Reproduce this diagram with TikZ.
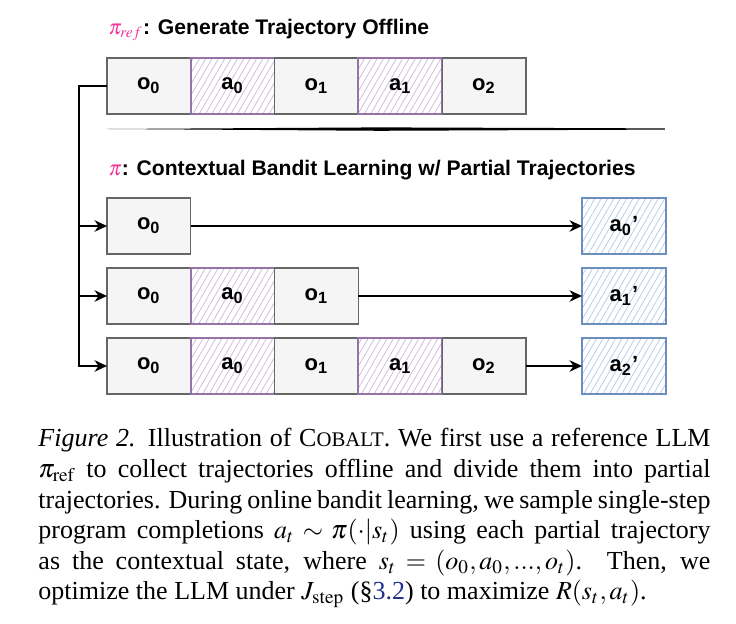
\documentclass[tikz,border=0pt]{standalone}
\usepackage{mathptmx}
\usepackage{fontspec}
\setmainfont{Liberation Serif}
\setsansfont{Liberation Sans}
\usetikzlibrary{positioning,patterns.meta,arrows.meta}

\definecolor{boxgray}{HTML}{F5F5F5}
\definecolor{edgegray}{HTML}{666666}
\definecolor{actpurple}{HTML}{9673A6}
\definecolor{hatchpurple}{HTML}{CDB9D9}
\definecolor{newblue}{HTML}{6C8EBF}
\definecolor{hatchblue}{HTML}{B5CBEA}
\definecolor{pipink}{HTML}{F0369A}
\definecolor{linkblue}{HTML}{1F2F8F}

\tikzset{
  seg/.style={minimum width=33.52pt, minimum height=22.4pt, inner sep=0pt, outer sep=0pt,
    font=\sffamily\bfseries\fontsize{8.8}{10}\selectfont},
  obsbox/.style={seg, draw=edgegray, fill=boxgray, line width=0.5pt},
  actbox/.style={seg, draw=actpurple, line width=0.75pt,
    pattern={Lines[angle=60,distance=2.2pt,line width=0.3pt]}, pattern color=hatchpurple},
  newbox/.style={seg, draw=newblue, line width=0.75pt,
    pattern={Lines[angle=60,distance=2.2pt,line width=0.3pt]}, pattern color=hatchblue},
  flow/.style={line width=0.6pt, -{Stealth[length=5pt,width=4.6pt]}},
  heading/.style={anchor=west, inner sep=0pt, font=\sffamily\bfseries\fontsize{8.45}{10}\selectfont}
}

\begin{document}
\begin{tikzpicture}[x=0.4pt, y=-0.4pt]
    \useasboundingbox (0,0) rectangle (736,624);

    % Offline trajectory from the reference policy
    \node[heading] (title1) at (108,30) {\textcolor{pipink}{$\pi_{ref}$}: Generate Trajectory Offline};
    \node[obsbox] (t1) at (148.9,86) {o\textsubscript{0}};
    \node[actbox, right=0pt of t1] (t2) {a\textsubscript{0}};
    \node[obsbox, right=0pt of t2] (t3) {o\textsubscript{1}};
    \node[actbox, right=0pt of t3] (t4) {a\textsubscript{1}};
    \node[obsbox, right=0pt of t4] (t5) {o\textsubscript{2}};

    % Separator
    \fill (107,129) -- (380,127.4) -- (665,128.4) -- (665,129.6) -- (380,130.8) -- cycle;

    % Partial trajectories
    \node[heading] (title2) at (108,170) {\textcolor{pipink}{$\pi$}: Contextual Bandit Learning w/ Partial Trajectories};

    \node[obsbox] (r1o0) at (148.9,226) {o\textsubscript{0}};

    \node[obsbox] (r2o0) at (148.9,296) {o\textsubscript{0}};
    \node[actbox, right=0pt of r2o0] (r2a0) {a\textsubscript{0}};
    \node[obsbox, right=0pt of r2a0] (r2o1) {o\textsubscript{1}};

    \node[obsbox] (r3o0) at (148.9,366) {o\textsubscript{0}};
    \node[actbox, right=0pt of r3o0] (r3a0) {a\textsubscript{0}};
    \node[obsbox, right=0pt of r3a0] (r3o1) {o\textsubscript{1}};
    \node[actbox, right=0pt of r3o1] (r3a1) {a\textsubscript{1}};
    \node[obsbox, right=0pt of r3a1] (r3o2) {o\textsubscript{2}};

    % Sampled next actions
    \node[newbox] (p0) at (623.9,226) {a\textsubscript{0}'};
    \node[newbox] (p1) at (623.9,296) {a\textsubscript{1}'};
    \node[newbox] (p2) at (623.9,366) {a\textsubscript{2}'};

    % Connectors
    \coordinate (spine) at (79,0);
    \draw[flow] (t1.west) -| (spine |- r3o0.west) -- (r3o0.west);
    \draw[flow] (spine |- r1o0.west) -- (r1o0.west);
    \draw[flow] (spine |- r2o0.west) -- (r2o0.west);
    \draw[flow] (r1o0.east) -- (p0.west);
    \draw[flow] (r2o1.east) -- (p1.west);
    \draw[flow] (r3o2.east) -- (p2.west);

    % Caption
    \node[anchor=north west, inner sep=0pt, text width=268.8pt, align=justify,
      font=\fontsize{10.4}{12.25}\selectfont] (caption) at (38,428) {%
      \textit{Figure 2.} Illustration of C{\fontsize{8.3}{12}\selectfont OBALT}. We first use a reference LLM\linebreak
      $\pi_{\mathrm{ref}}$\ to collect trajectories offline and divide them into partial\linebreak
      trajectories. During online bandit learning, we sample single-step\linebreak
      program completions $a_t \sim \pi(\cdot|s_t)$ using each partial trajectory\linebreak
      as the contextual state, where $s_t = (o_0, a_0, ..., o_t)$. Then, we\linebreak
      optimize the LLM under $J_{\mathrm{step}}$ (\S\textcolor{linkblue}{3.2}) to maximize $R(s_t, a_t)$.};

\end{tikzpicture}
\end{document}
